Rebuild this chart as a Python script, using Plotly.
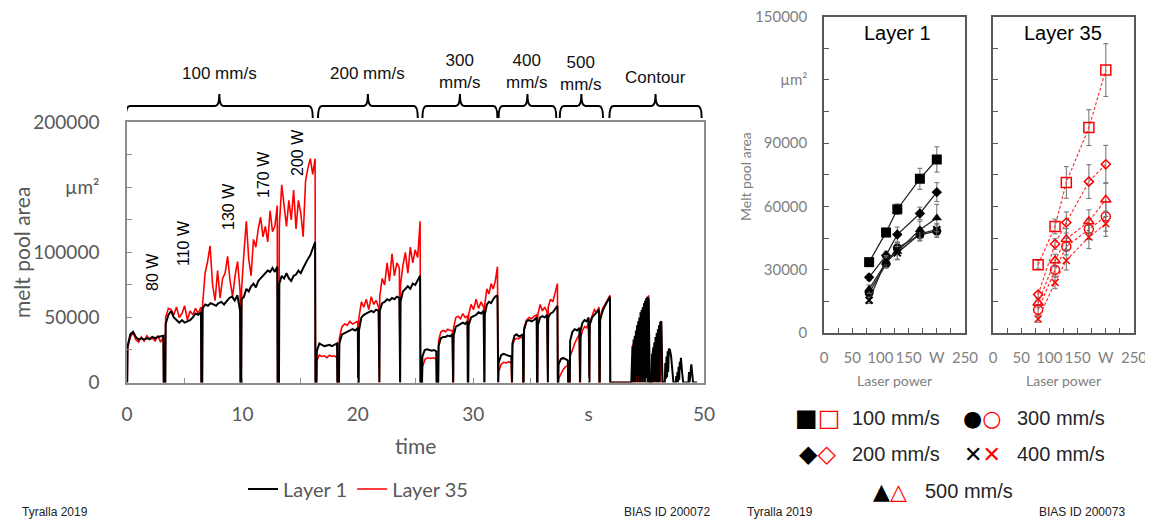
import plotly.graph_objects as go
import numpy as np

W, H = 1153, 521
OFF = 8  # page body margin of the html page
def px(x): return (x - OFF) / W
def py(y): return (H - (y - OFF)) / H

# ---------------- left chart data (values in 1000 µm²) ----------------
seg_t = [(0.05, 3.15), (3.35, 6.41), (6.55, 9.8), (9.93, 13.02), (13.2, 16.3),
         (16.45, 18.2), (18.4, 20.0), (20.1, 21.8), (21.9, 23.6), (23.7, 25.4),
         (25.6, 26.8), (27.0, 28.2), (28.3, 29.5), (29.6, 30.9), (31.0, 32.1),
         (32.2, 33.3), (33.4, 34.3), (34.4, 35.5), (35.6, 36.4), (36.5, 37.3),
         (37.4, 38.2), (38.4, 39.2), (39.3, 40.0), (40.1, 40.9), (41.0, 41.85)]

black_segs = [
    [28, 37, 39, 35, 33, 34, 33, 34, 33.5, 35, 34, 35, 35.5, 36],
    [45, 52, 55, 50, 48, 46, 48, 46, 47, 48, 50, 53, 52, 54],
    [57, 60, 59, 61, 60, 59, 61, 62, 60, 63, 65, 66, 63, 67, 55],
    [64, 66, 72, 70, 74, 76, 73, 78, 80, 82, 84, 86, 85, 88, 85, 89],
    [76, 82, 80, 84, 80, 78, 82, 83, 86, 84, 88, 92, 95, 98, 104, 108],
    [24, 30, 29, 28, 28.5, 29, 28, 29, 30],
    [30, 37, 38, 39, 40, 41, 40, 42],
    [40, 50, 52, 53, 54, 55, 54, 56, 55],
    [55, 61, 62, 64, 63, 65, 64, 66, 65],
    [62, 70, 72, 74, 72, 76, 75, 79, 82],
    [20, 25, 25.5, 25, 24.5, 25, 24],
    [28, 34, 35, 35, 36, 35.5, 37],
    [36, 43, 44, 45, 46, 45, 47],
    [44, 50, 51, 52, 54, 53, 55],
    [52, 60, 62, 61, 64, 66, 67],
    [15, 21, 22, 21, 20.5, 20],
    [30, 36, 37, 35.5, 36, 37],
    [40, 47, 48, 47, 48, 50],
    [44, 50, 51, 50, 52],
    [50, 53, 54, 57, 59],
    [14, 18, 19, 18, 17],
    [32, 39, 41, 40, 42],
    [40, 46, 48, 47, 50],
    [44, 50, 52, 54, 56],
    [48, 55, 59, 62, 66],
]
red_segs = [
    [26, 35, 38, 33, 31, 35, 32, 36, 33, 34, 32, 36, 31, 35],
    [50, 57, 56, 52, 58, 50, 53, 59, 48, 55, 52, 57, 53, 58],
    [60, 84, 93, 105, 75, 63, 86, 65, 80, 84, 97, 78, 66, 82, 93, 70],
    [72, 100, 124, 95, 82, 110, 104, 118, 127, 112, 120, 108, 132, 116, 120, 136],
    [120, 152, 135, 120, 140, 125, 148, 118, 140, 130, 112, 155, 165, 172, 160, 172],
    [17, 21, 20, 20.5, 19, 21, 20, 20.5, 19],
    [34, 43, 45, 44, 47, 45, 46, 47],
    [50, 62, 58, 64, 56, 66, 60, 63, 58],
    [66, 80, 75, 92, 78, 99, 82, 92, 88],
    [75, 90, 100, 84, 104, 92, 102, 96, 124],
    [12, 18, 19, 18.5, 19, 18],
    [32, 39, 40, 39, 41, 40, 40],
    [42, 50, 51, 49, 53, 50, 51],
    [52, 60, 56, 64, 57, 62, 58],
    [60, 72, 68, 76, 72, 78, 89],
    [8, 14, 15.5, 15, 16, 15],
    [28, 33, 34, 33.5, 35, 34],
    [42, 48, 50, 49, 51, 52],
    [52, 60, 55, 58, 54],
    [58, 64, 62, 68, 76],
    [3, 7, 10, 12, 13],
    [20, 26, 30, 34, 37],
    [34, 40, 43, 42, 46],
    [46, 52, 56, 54, 58],
    [50, 57, 60, 63, 67],
]

contour_t_black = [43.7, 43.8, 43.85, 43.9, 43.95, 44.0, 44.05, 44.1, 44.15, 44.2, 44.25, 44.3, 44.35,
                   44.4, 44.45, 44.5, 44.55, 44.6, 44.65, 44.7, 44.75, 44.8, 44.85, 44.9, 44.95, 45.0,
                   45.05, 45.1, 45.15, 45.2, 45.3, 45.45, 45.5, 45.55, 45.6, 45.65, 45.7, 45.75, 45.8,
                   45.85, 45.9, 45.95, 46.0, 46.05, 46.1, 46.15, 46.2, 46.3, 46.4, 46.6, 46.65, 46.7,
                   46.75, 46.8, 46.85, 46.9, 46.95, 47.05, 47.15, 47.25, 47.35, 47.55, 47.6, 47.65,
                   47.7, 47.75, 47.8, 47.85, 47.9, 47.95, 48.0, 48.1, 48.2, 48.65, 48.7, 48.75, 48.85,
                   48.9, 49.0, 49.05, 49.4]
contour_black = [0, 28, 0, 33, 0, 36, 0, 40, 5, 44, 0, 47, 5, 50, 0, 54, 3, 56, 0, 58, 4, 61, 0, 63, 2,
                 65, 0, 66, 0, 65, 0, 0, 22, 0, 27, 0, 31, 2, 35, 0, 38, 0, 41, 0, 44, 0, 46, 47, 0, 0,
                 15, 3, 20, 4, 24, 8, 26, 25, 20, 10, 0, 0, 5, 0, 8, 0, 12, 2, 16, 10, 19, 8, 0, 0, 8,
                 0, 12, 14, 5, 0, 0]
contour_t_red = [43.75, 43.85, 43.9, 44.0, 44.05, 44.15, 44.2, 44.3, 44.35, 44.45, 44.5, 44.6, 44.65,
                 44.75, 44.8, 44.9, 44.95, 45.05, 45.1, 45.2, 45.28, 45.45, 45.55, 45.6, 45.7, 45.75,
                 45.85, 45.9, 46.0, 46.05, 46.15, 46.2, 46.3, 46.4]
contour_red = [0, 30, 0, 35, 0, 39, 0, 44, 0, 49, 0, 53, 0, 58, 0, 62, 0, 65, 0, 67, 0, 0, 25, 0, 30, 0,
               35, 0, 40, 0, 44, 0, 47, 0]

speed_labels = ["100 mm/s", "200 mm/s", "300 mm/s", "400 mm/s", "500 mm/s", "Contour"]
brace_ranges = [(-0.1, 16.1), (16.55, 25.2), (25.6, 32.1), (32.2, 37.2), (37.5, 41.25), (41.8, 49.8)]
power_labels = ["80 W", "110 W", "130 W", "170 W", "200 W"]

# ---------------- right charts data ----------------
power = [80, 110, 130, 170, 200]
speeds = ["100 mm/s", "200 mm/s", "300 mm/s", "400 mm/s", "500 mm/s"]
layer1 = {
    "100 mm/s": [33600, 47700, 58700, 73100, 82300],
    "200 mm/s": [26400, 36800, 46700, 56700, 66800],
    "300 mm/s": [19000, 32800, 40300, 46600, 48300],
    "400 mm/s": [15500, 34700, 38000, 47000, 49000],
    "500 mm/s": [20800, 33500, 38700, 49000, 54500],
}
layer1_err = {
    "100 mm/s": [1500, 2000, 2500, 5000, 6000],
    "200 mm/s": [1500, 2000, 3500, 3000, 4500],
    "300 mm/s": [1500, 2000, 2500, 3000, 3000],
    "400 mm/s": [1500, 2000, 3000, 3000, 3000],
    "500 mm/s": [2000, 2500, 4000, 4000, 6500],
}
layer35 = {
    "100 mm/s": [32400, 50500, 71400, 97400, 124700],
    "200 mm/s": [18200, 42200, 52400, 71800, 80000],
    "300 mm/s": [11000, 30000, 41000, 49300, 55300],
    "400 mm/s": [6600, 24000, 34400, 45500, 51800],
    "500 mm/s": [14200, 34400, 44500, 52900, 63200],
}
layer35_err = {
    "100 mm/s": [2000, 3500, 7500, 8500, 12500],
    "200 mm/s": [1500, 2500, 5000, 8000, 9000],
    "300 mm/s": [2500, 3500, 4000, 5000, 7000],
    "400 mm/s": [1500, 3000, 4500, 5500, 6000],
    "500 mm/s": [2000, 3000, 5000, 5500, 8000],
}
sym_fill = {"100 mm/s": ("square", 10), "200 mm/s": ("diamond", 8), "300 mm/s": ("circle", 9),
            "400 mm/s": ("x-thin", 7), "500 mm/s": ("triangle-up", 9)}
sym_open = {"100 mm/s": ("square-open", 10), "200 mm/s": ("diamond-open", 7), "300 mm/s": ("circle-open", 9),
            "400 mm/s": ("x-thin", 7), "500 mm/s": ("triangle-up-open", 9)}


def build(segs, vals, ct, cv):
    xs, ys = [], []
    for (t0, t1), v in zip(segs, vals):
        xs.append(t0 - 0.03); ys.append(0)
        xs.extend(np.linspace(t0, t1, len(v)).tolist()); ys.extend([a * 1000 for a in v])
        xs.append(t1 + 0.03); ys.append(0)
    xs.extend(ct); ys.extend([a * 1000 for a in cv])
    return xs, ys


fig = go.Figure()
rx, ry = build(seg_t, red_segs, contour_t_red, contour_red)
bx, by = build(seg_t, black_segs, contour_t_black, contour_black)
fig.add_trace(go.Scatter(x=rx, y=ry, mode="lines", line=dict(color="#ff0000", width=1.6),
                         name="Layer 35", legendrank=2, xaxis="x", yaxis="y"))
fig.add_trace(go.Scatter(x=bx, y=by, mode="lines", line=dict(color="#000000", width=2),
                         name="Layer 1", legendrank=1, xaxis="x", yaxis="y"))

for s in speeds:
    sym, sz = sym_fill[s]
    fig.add_trace(go.Scatter(
        x=power, y=layer1[s], mode="lines+markers", showlegend=False, xaxis="x2", yaxis="y2",
        line=dict(color="#262626", width=1.3),
        marker=dict(symbol=sym, size=sz, color="#000000", line=dict(color="#000000", width=2 if sym == "x-thin" else 0)),
        error_y=dict(type="data", array=layer1_err[s], color="#6e6e6e", thickness=1, width=2.5)))
for s in speeds:
    sym, sz = sym_open[s]
    fig.add_trace(go.Scatter(
        x=power, y=layer35[s], mode="lines+markers", showlegend=False, xaxis="x3", yaxis="y3",
        line=dict(color="#ff3333", width=1.2, dash="3px,2px"),
        marker=dict(symbol=sym, size=sz, color="#ff0000", line=dict(color="#ff0000", width=1.5)),
        error_y=dict(type="data", array=layer35_err[s], color="#6e6e6e", thickness=1, width=2.5)))

gray_l = "#595959"
axcommon = dict(showgrid=False, zeroline=False, showline=True, mirror=True, ticks="inside", ticklen=5,
                automargin=False, tickangle=0)

shapes = []
annotations = []


def ann(x, y, text, size, color="#111111", family="Liberation Sans, Arial", angle=0, xanchor="center"):
    annotations.append(dict(x=px(x), y=py(y), xref="paper", yref="paper", text=text, showarrow=False,
                            textangle=angle, xanchor=xanchor, yanchor="middle",
                            font=dict(family=family, size=size, color=color)))


# braces
yb, yt, yp = py(118), py(106), py(94)
for (a, b), lab in zip(brace_ranges, speed_labels):
    m = (a + b) / 2
    d = 0.35
    path = (f"M {a},{yb} Q {a},{yt} {a+d},{yt} L {m-d},{yt} Q {m},{yt} {m},{yp} "
            f"Q {m},{yt} {m+d},{yt} L {b-d},{yt} Q {b},{yt} {b},{yb}")
    shapes.append(dict(type="path", path=path, xref="x", yref="paper",
                       line=dict(color="black", width=2)))
    txt = lab if lab in ("100 mm/s", "200 mm/s", "Contour") else lab.replace(" ", "<br>")
    ypos = py(73) if "<br>" not in txt else py(72)
    if lab == "Contour":
        ypos = py(77)
    if lab == "500 mm/s":
        ypos = py(74)
    annotations.append(dict(x=m, y=ypos, xref="x", yref="paper", text=txt, showarrow=False,
                            font=dict(family="Liberation Sans, Arial", size=17, color="#111111"),
                            xanchor="center", yanchor="middle"))

# power labels
pl_pos = [(152, 272), (183, 243), (228, 207), (263, 175), (298, 153)]
for lab, (x, y) in zip(power_labels, pl_pos):
    ann(x, y, lab, 16, color="black", angle=-90)

ann(22, 253, "melt pool area", 21, color=gray_l, family="Lato", angle=-90)
ann(415, 445, "time", 21, color=gray_l, family="Lato")
ann(745, 177, "Melt pool area", 14, color="#7f7f7f", family="Lato", angle=-90)
ann(894, 380, "Laser power", 14, color="#7f7f7f", family="Lato")
ann(1063, 380, "Laser power", 14, color="#7f7f7f", family="Lato")
ann(897, 33, "Layer 1", 20, color="black")
ann(1063, 33, "Layer 35", 20, color="black")
ann(20, 512, "Tyralla 2019", 12, color="#222", xanchor="left")
ann(712, 512, "BIAS ID 200072", 12, color="#222", xanchor="right")
ann(745, 512, "Tyralla 2019", 12, color="#222", xanchor="left")
ann(1127, 512, "BIAS ID 200073", 12, color="#222", xanchor="right")

# right legend
leg_items = [("■", "□", "100 mm/s", 817, 418, 24), ("●", "○", "300 mm/s", 982, 418, 22),
             ("◆", "◇", "200 mm/s", 817, 454, 24), ("✕", "✕", "400 mm/s", 982, 454, 22),
             ("▲", "△", "500 mm/s", 890, 491, 22)]
for g1, g2, lab, x, y, gs in leg_items:
    ann(x, y, f'<span style="color:#000">{g1}</span><span style="color:#ff0000">{g2}</span>', gs,
        family="DejaVu Sans")
    ann(x + 33, y, lab, 20, color="#262626", xanchor="left")

fig.update_layout(
    width=W, height=H, margin=dict(l=0, r=0, t=0, b=0, pad=0, autoexpand=False),
    paper_bgcolor="white", plot_bgcolor="white",
    showlegend=True,
    legend=dict(orientation="h", x=px(243), y=py(489), xanchor="left", yanchor="middle",
                font=dict(family="Lato", size=20, color=gray_l), bgcolor="rgba(0,0,0,0)",
                itemwidth=30, traceorder="normal"),
    xaxis=dict(domain=[px(127), px(704)], range=[0, 50], anchor="y",
               tickmode="array", tickvals=[0, 10, 20, 30, 40, 50], ticktext=["0", "10", "20", "30", "s", "50"],
               tickfont=dict(family="Lato", size=19, color=gray_l), ticklabelstandoff=14,
               linecolor="#8c8c8c", linewidth=1.5, tickcolor="#8c8c8c",
               minor=dict(tickmode="array", tickvals=[5, 15, 25, 35, 45], ticks="inside", ticklen=5, tickcolor="#8c8c8c"),
               **axcommon),
    yaxis=dict(domain=[py(382.5), py(122.3)], range=[0, 200000], anchor="x",
               tickmode="array", tickvals=[0, 50000, 100000, 150000, 200000],
               ticktext=["0", "50000", "100000", "µm²", "200000"],
               tickfont=dict(family="Lato", size=19, color=gray_l), ticklabelstandoff=22,
               linecolor="#8c8c8c", linewidth=1.5, tickcolor="#8c8c8c",
               minor=dict(tickmode="array", tickvals=[25000, 75000, 125000, 175000], ticks="inside", ticklen=5, tickcolor="#8c8c8c"),
               **axcommon),
)
for xa, ya, x0, x1, lab in [("xaxis2", "yaxis2", 824, 965, True), ("xaxis3", "yaxis3", 993, 1134, False)]:
    xn = xa.replace("axis", ""); yn = ya.replace("axis", "")
    fig.layout[xa] = dict(domain=[px(x0), px(x1)], range=[0, 250], anchor=yn,
                          tickmode="array", tickvals=[0, 50, 100, 150, 200, 250],
                          ticktext=["0", "50", "100", "150", "W", "250"],
                          tickfont=dict(family="Lato", size=15, color="#7f7f7f"), ticklabelstandoff=10,
                          linecolor="#595959", linewidth=1.5, tickcolor="#595959",
                          minor=dict(tickmode="array", tickvals=[25, 75, 125, 175, 225], ticks="inside", ticklen=5, tickcolor="#595959"),
                          **axcommon)
    fig.layout[ya] = dict(domain=[py(333), py(16.7)], range=[0, 150000], anchor=xn,
                          tickmode="array", tickvals=[0, 30000, 60000, 90000, 120000, 150000],
                          ticktext=["0", "30000", "60000", "90000", "µm²", "150000"],
                          showticklabels=lab,
                          tickfont=dict(family="Lato", size=15, color="#7f7f7f"), ticklabelstandoff=12,
                          linecolor="#595959", linewidth=1.5, tickcolor="#595959",
                          minor=dict(tickmode="array", tickvals=[15000, 45000, 75000, 105000, 135000], ticks="inside", ticklen=5, tickcolor="#595959"),
                          **axcommon)

fig.update_layout(shapes=shapes, annotations=annotations)
fig.write_html("out.html")
